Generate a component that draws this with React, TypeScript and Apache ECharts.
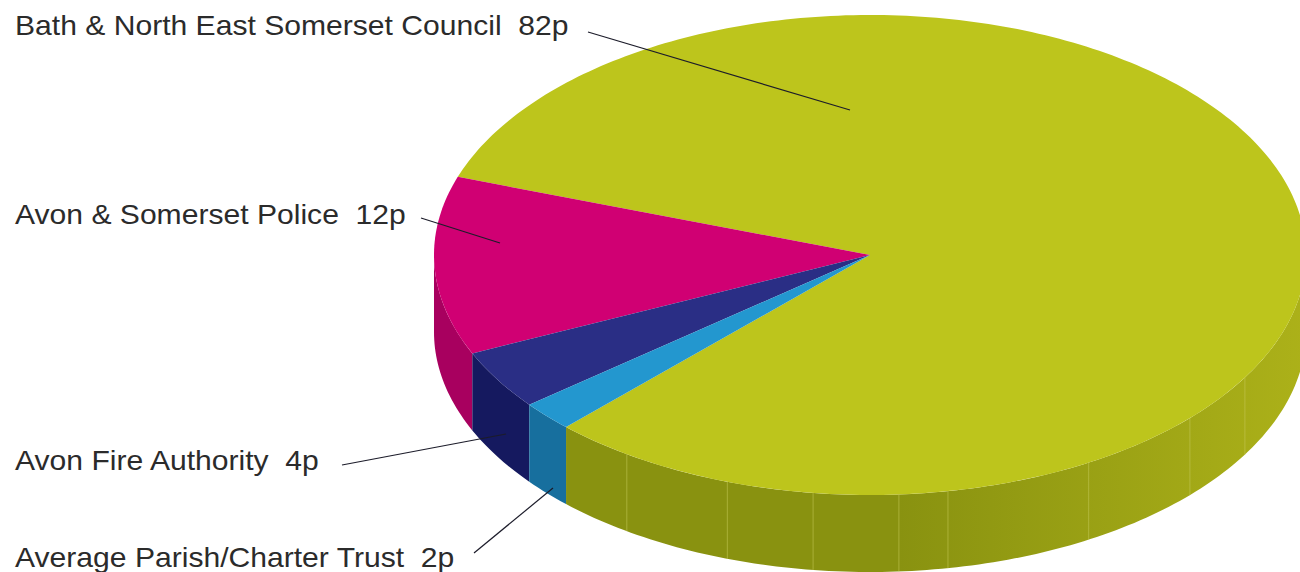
import React, { useEffect, useRef } from "react";
import * as echarts from "echarts";

const categories = [
  "Bath & North East Somerset Council",
  "Avon & Somerset Police",
  "Avon Fire Authority",
  "Average Parish/Charter Trust",
];
const values = [82, 12, 4, 2];
const unit = "p";
const topColours = ["#bdc51c", "#d00073", "#2a2e85", "#2397cf"];
const wallLeftColours = ["#899210", "#a8005f", "#15195f", "#176f9e"];
const wallRightColours = ["#acb119", "#a8005f", "#15195f", "#176f9e"];

const WIDTH = 1300;
const HEIGHT = 572;
const CX = 870;
const CY = 255;
const RX = 436;
const RY = 240;
const DEPTH = 77;
const START_ANGLE = 134.2;
const SEAMS = [123.9, 109.1, 97.5, 86.2, 79.7, 59.9, 42.8, 30.7];

const rim = (deg: number, dy = 0): number[] => {
  const t = (deg * Math.PI) / 180;
  return [CX + RX * Math.cos(t), CY + RY * Math.sin(t) + dy];
};

const arcPoints = (from: number, to: number, dy = 0): number[][] => {
  const n = Math.max(2, Math.ceil(Math.abs(from - to)));
  const pts: number[][] = [];
  for (let i = 0; i <= n; i++) pts.push(rim(from + ((to - from) * i) / n, dy));
  return pts;
};

const total = values.reduce((a, b) => a + b, 0);

const sliceRange = (index: number): [number, number] => {
  let before = 0;
  for (let i = 0; i < index; i++) before += values[i];
  const from = START_ANGLE - (before / total) * 360;
  const to = from - (values[index] / total) * 360;
  return to < -180 ? [from + 360, to + 360] : [from, to];
};

const renderSlice = (params: any) => {
  const i = params.dataIndex;
  const [from, to] = sliceRange(i);
  const children: any[] = [];

  // front wall: the part of the rim in the lower half of the ellipse
  const wallFrom = Math.min(from, 180);
  const wallTo = Math.max(to, 0);
  if (wallFrom > wallTo) {
    const upper = arcPoints(wallFrom, wallTo);
    const lower = arcPoints(wallTo, wallFrom, DEPTH);
    children.push({
      type: "polygon",
      shape: { points: [...upper, ...lower] },
      style: {
        fill: {
          type: "linear",
          x: 0,
          y: 0,
          x2: 1,
          y2: 0,
          colorStops: [
            { offset: 0, color: wallLeftColours[i] },
            { offset: 0.45, color: wallLeftColours[i] },
            { offset: 1, color: wallRightColours[i] },
          ],
        },
      },
    });
    if (i === 0) {
      SEAMS.forEach((deg) => {
        const a = rim(deg);
        const b = rim(deg, DEPTH);
        children.push({
          type: "line",
          shape: { x1: a[0], y1: a[1], x2: b[0], y2: b[1] },
          style: { stroke: "#c6cb5a", lineWidth: 1, opacity: 0.55 },
        });
      });
    }
  }

  // top face
  children.push({
    type: "polygon",
    shape: { points: [[CX, CY], ...arcPoints(from, to)] },
    style: { fill: topColours[i] },
  });

  return { type: "group", children };
};

const labelPositions = [
  [15, 26],
  [15, 215],
  [15, 461],
  [15, 558],
];
const leaders = [
  [588, 32, 850, 110],
  [421, 218, 500, 243],
  [342, 465, 506, 434],
  [474, 553, 553, 488],
];

export default function App() {
  const ref = useRef<HTMLDivElement>(null);

  useEffect(() => {
    document.body.style.margin = "0";
    const chart = echarts.init(ref.current!, undefined, { renderer: "svg" });
    chart.setOption({
      animation: false,
      backgroundColor: "#ffffff",
      series: [
        {
          type: "custom",
          coordinateSystem: "none",
          data: values,
          renderItem: renderSlice,
          silent: true,
        },
      ],
      graphic: [
        ...categories.map((name, i) => ({
          type: "text",
          x: labelPositions[i][0],
          y: labelPositions[i][1],
          scaleX: 1.115,
          z: 20,
          style: {
            text: `${name}  ${values[i]}${unit}`,
            fill: "#2b2b2b",
            font: '27px "Liberation Sans", Arial, sans-serif',
            textVerticalAlign: "middle",
          },
        })),
        ...leaders.map((l) => ({
          type: "line",
          z: 20,
          shape: { x1: l[0], y1: l[1], x2: l[2], y2: l[3] },
          style: { stroke: "#1c1c2a", lineWidth: 1.2 },
        })),
      ],
    });
    return () => chart.dispose();
  }, []);

  return <div ref={ref} style={{ width: WIDTH, height: HEIGHT }} />;
}
